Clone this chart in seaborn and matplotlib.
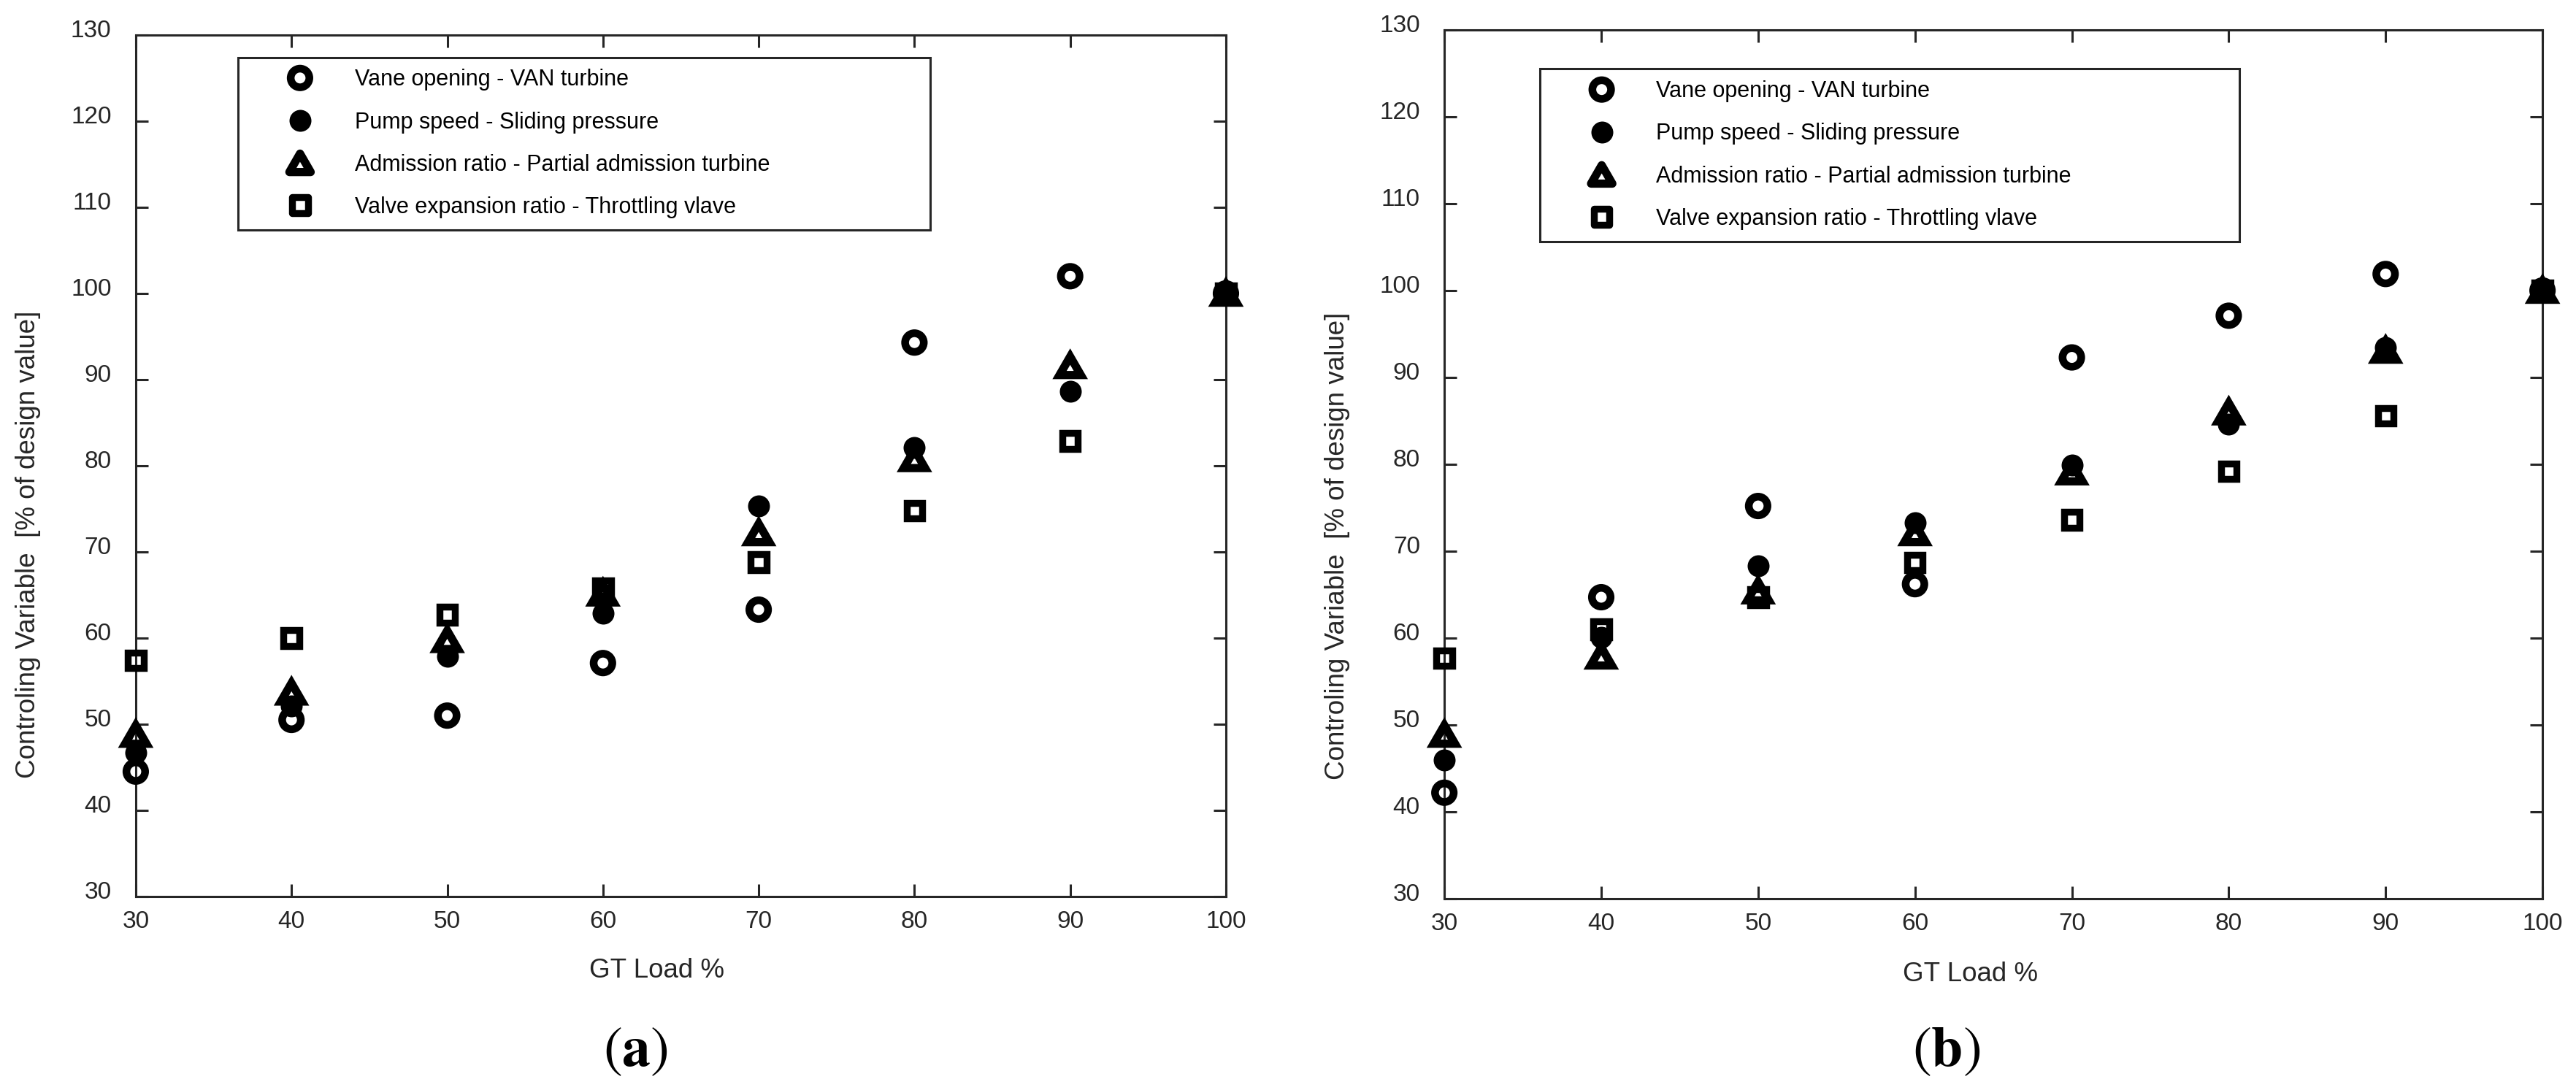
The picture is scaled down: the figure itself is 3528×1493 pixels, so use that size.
import numpy as np
import seaborn as sns
import matplotlib.pyplot as plt
from matplotlib.path import Path
from matplotlib.transforms import ScaledTranslation

# GT load (x) shared by both panels
load = [30, 40, 50, 60, 70, 80, 90, 100]

# panel (a)
vane_a = [44.5, 50.5, 51.0, 57.1, 63.3, 94.3, 102.0, 100]
pump_a = [46.7, 52.1, 57.9, 62.9, 75.3, 82.1, 88.6, 100]
adm_a = [48.8, 53.7, 59.8, 65.2, 72.2, 80.8, 91.6, 100]
valve_a = [57.4, 60.0, 62.7, 65.8, 68.8, 74.8, 82.9, 100]

# panel (b)
vane_b = [42.2, 64.7, 75.2, 66.2, 92.3, 97.1, 101.9, 100]
pump_b = [46.0, 60.1, 68.3, 73.3, 79.9, 84.6, 93.4, 100]
adm_b = [48.9, 57.9, 65.4, 72.1, 79.1, 86.0, 93.1, 100]
valve_b = [57.7, 61.0, 64.7, 68.7, 73.6, 79.2, 85.6, 100]

series_names = ["Vane opening - VAN turbine",
                "Pump speed - Sliding pressure",
                "Admission ratio - Partial admission turbine",
                "Valve expansion ratio - Throttling vlave"]
x_ticks = [30, 40, 50, 60, 70, 80, 90, 100]
y_ticks = [30, 40, 50, 60, 70, 80, 90, 100, 110, 120, 130]

sns.set_style("ticks")
plt.rcParams["font.family"] = ["Liberation Sans", "DejaVu Sans"]
plt.rcParams["mathtext.fontset"] = "stix"
ink = "#262626"

# equilateral triangle (width = size)
tri = Path([(0, 0.433), (-0.5, -0.433), (0.5, -0.433), (0, 0.433)],
           [Path.MOVETO, Path.LINETO, Path.LINETO, Path.CLOSEPOLY])

# marker, size (pt), face, edge width (pt)
looks = [("o", 18.4, "none", 7.6),
         ("o", 21.6, "black", 0.0),
         (tri, 21.0, "none", 8.1),
         ("s", 15.5, "none", 6.8)]

panels = [
    dict(data=[vane_a, pump_a, adm_a, valve_a], rect=[0.0527, 0.1775, 0.4232, 0.7904],
         leg=(0.094, 0.772, 0.635, 0.202), ylab=(-0.0985, 0.409), xlab=(0.478, -0.086),
         tag=r"$(\mathbf{a})$", tag_x=0.2466),
    dict(data=[vane_b, pump_b, adm_b, valve_b], rect=[0.5607, 0.1755, 0.4263, 0.7971],
         leg=(0.087, 0.753, 0.637, 0.202), ylab=(-0.0975, 0.406), xlab=(0.479, -0.087),
         tag=r"$(\mathbf{b})$", tag_x=0.7557),
]

fig = plt.figure(figsize=(35.28, 14.93), dpi=100)

for p in panels:
    ax = fig.add_axes(p["rect"])
    for vals, name, (mk, ms, face, lw) in zip(p["data"], series_names, looks):
        sns.scatterplot(x=load, y=vals, ax=ax, marker=mk, s=ms ** 2,
                        facecolor=face, edgecolor="black", linewidth=lw,
                        joinstyle="miter", clip_on=False, zorder=3, label=name)

    ax.set_xlim(30, 100)
    ax.set_ylim(30, 130)
    ax.set_xticks(x_ticks)
    ax.set_yticks(y_ticks)
    ax.tick_params(direction="in", top=True, right=True, length=12, width=2.2,
                   color=ink, labelcolor=ink, labelsize=24)
    ax.tick_params(axis="x", pad=14)
    ax.tick_params(axis="y", pad=24)
    for sp in ax.spines.values():
        sp.set_linewidth(2.2)
        sp.set_color(ink)
    # y tick labels sit a bit above their ticks in the original
    shift = ScaledTranslation(0, 0.09, fig.dpi_scale_trans)
    for lab in ax.get_yticklabels():
        lab.set_transform(lab.get_transform() + shift)

    ax.set_xlabel("GT Load %", fontsize=26.5, color=ink, va="center")
    ax.xaxis.set_label_coords(*p["xlab"])
    ax.set_ylabel("Controling Variable  [% of design value]", fontsize=26.5,
                  color=ink, va="center", ha="center")
    ax.yaxis.set_label_coords(*p["ylab"])

    leg = ax.legend(loc="upper left", bbox_to_anchor=p["leg"], mode="expand",
                    borderaxespad=0, fontsize=22, labelspacing=0.92, borderpad=0.52,
                    handlelength=4.5, handletextpad=0.2, scatterpoints=1,
                    scatteryoffsets=[0.5], fancybox=False, framealpha=1)
    leg.get_frame().set_linewidth(2.2)
    leg.get_frame().set_edgecolor(ink)
    for t in leg.get_texts():
        t.set_color("black")

    fig.text(p["tag_x"], 0.0355, p["tag"], ha="center", va="center",
             fontsize=56, color="black")

fig.savefig("out.png", dpi=100)
